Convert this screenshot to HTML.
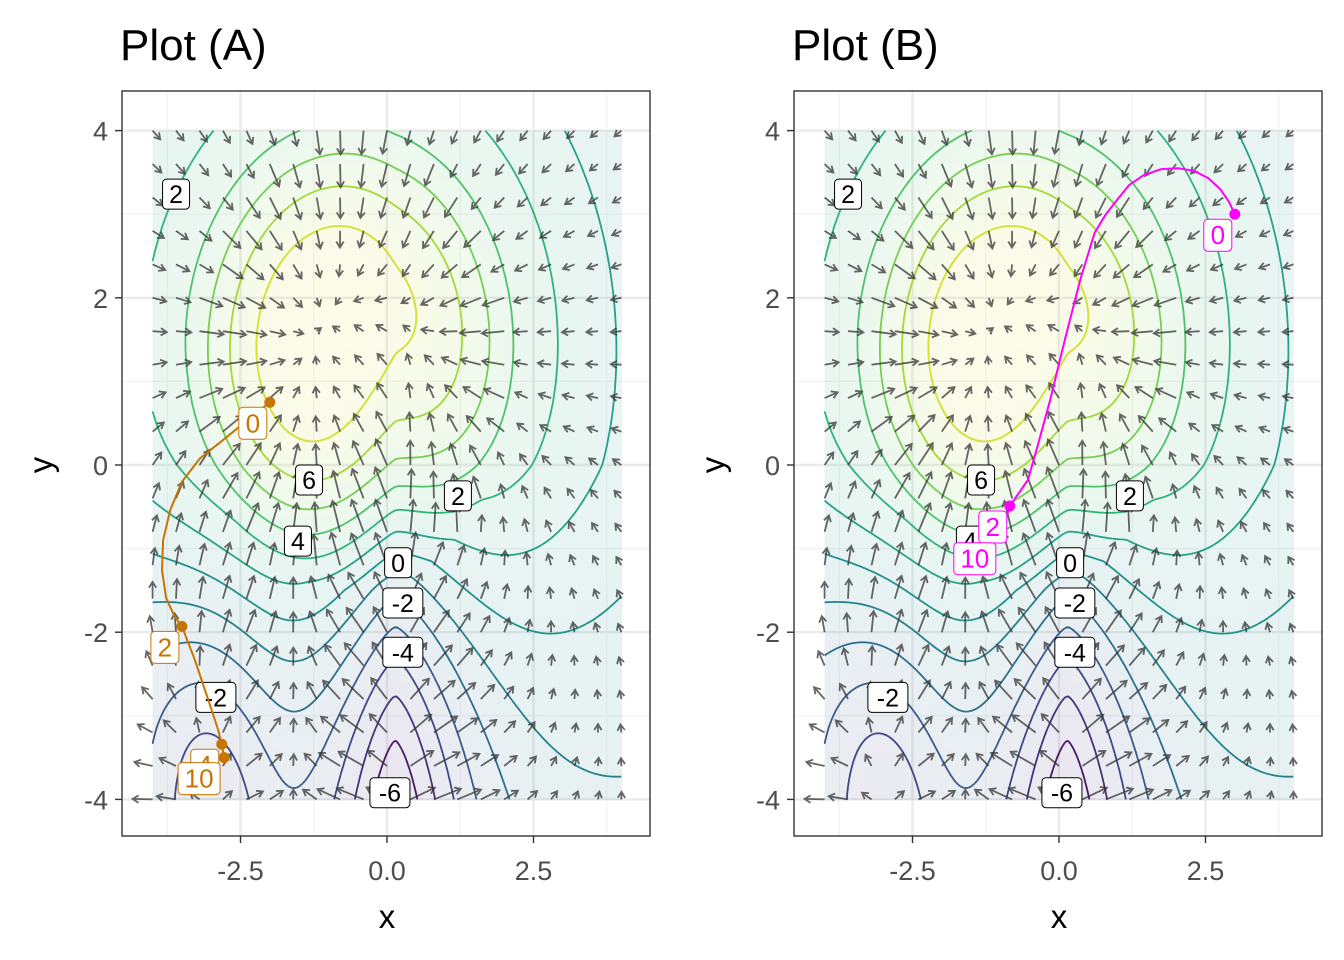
<!DOCTYPE html>
<html><head><meta charset="utf-8"><style>
html,body{margin:0;padding:0;background:#fff;}
svg{display:block;font-family:"Liberation Sans",Arial,sans-serif;}
</style></head><body>
<svg id="chart" width="1344" height="960" viewBox="0 0 1344 960" xmlns="http://www.w3.org/2000/svg">
<text x="120" y="60" font-size="44" fill="#000">Plot (A)</text>
<text x="792" y="60" font-size="44" fill="#000">Plot (B)</text>
<g id="pA"></g>
<g id="pB"></g>
</svg>
<script>
const contourLevels=[-6,-5,-4,-3,-2,-1,0,1,2,3,4,5,6,7,8];
const xTicks=[-2.5,0,2.5];
const xTickLabels=["-2.5","0.0","2.5"];
const yTicks=[-4,-2,0,2,4];
const yTickLabels=["-4","-2","0","2","4"];
const labelText=["2","6","4","2","0","-2","-4","-2","-6"];
const labelX=[-3.6,-1.33,-1.52,1.21,0.19,0.27,0.27,-2.92,0.05];
const labelY=[3.24,-0.18,-0.91,-0.37,-1.17,-1.65,-2.24,-2.78,-3.92];
const trajAX=[-2.0,-2.34,-2.76,-3.19,-3.50,-3.70,-3.82,-3.84,-3.77,-3.62,-3.50,-3.28,-3.05,-2.88,-2.82,-2.78];
const trajAY=[0.75,0.56,0.32,0.08,-0.20,-0.54,-0.90,-1.26,-1.59,-1.82,-1.93,-2.33,-2.81,-3.17,-3.34,-3.50];
const markAT=["4","0","2","10"];
const markAX=[-2.82,-2.0,-3.5,-2.78];
const markAY=[-3.34,0.75,-1.93,-3.5];
const trajBX=[3.0,2.9,2.75,2.55,2.3,2.03,1.75,1.45,1.2,1.0,0.8,0.61,0.36,0.10,-0.15,-0.36,-0.53,-0.84,-0.92,-1.01];
const trajBY=[3.0,3.15,3.3,3.43,3.52,3.55,3.54,3.47,3.35,3.18,3.0,2.78,2.21,1.50,0.78,0.24,-0.18,-0.49,-0.68,-0.87];
const markBT=["0","2","10"];
const markBX=[3.0,-0.84,-1.01];
const markBY=[3.0,-0.49,-0.87];

const NS="http://www.w3.org/2000/svg";
function f(x,y){
  const u=(x+0.6)*(x+0.6)+(y-1.3)*(y-1.3);
  const hh=u<7.84?0.8*Math.pow(u/7.84,1.33):0.8*Math.pow(u/7.84,0.77);
  const a=8.1*Math.exp(-hh);
  const b0=0.5-0.2*Math.max(0,-y);
  const b=6.6*Math.exp(-Math.pow(Math.abs(x-0.14)/1.4,1.4)-(y+4.5)*(y+4.5)/22);
  const c=3.2*Math.exp(-(x+3.0)*(x+3.0)/1.3-(y+4.4)*(y+4.4)/6);
  const d=1.5*Math.exp(-(x+4)*(x+4)/6-(y+2.5)*(y+2.5)/4);
  return b0+a-b-c-d;
}
const vir=["#440154","#472d7b","#3b528b","#2c728e","#21918c","#28ae80","#5ec962","#addc30","#fde725"];
function hx(h){return [parseInt(h.substr(1,2),16),parseInt(h.substr(3,2),16),parseInt(h.substr(5,2),16)];}
function viridis(t){t=Math.max(0,Math.min(1,t));const s=t*8;const i=Math.min(7,Math.floor(s));const r=s-i;
  const a=hx(vir[i]),b=hx(vir[i+1]);return "rgb("+a.map((v,k)=>Math.round(v+(b[k]-v)*r)).join(",")+")";}
function el(tag,attrs,parent){const e=document.createElementNS(NS,tag);for(const k in attrs)e.setAttribute(k,attrs[k]);parent.appendChild(e);return e;}

function drawPlot(g,ox,tx,ty,mt,mx,my,col,pre){
  const X=v=>387+ox+58.6*v, Y=v=>465-83.6*v;
  const L=122+ox,R=650+ox,T=91,B=836;
  const bg=el('rect',{x:L,y:T,width:R-L,height:B-T,fill:'#fff'},g);
  
  
  const grid=el('g',{},g);
  
  
  [-3.75,-1.25,1.25,3.75].forEach(v=>el('line',{x1:X(v),x2:X(v),y1:T,y2:B,stroke:'#f2f2f2','stroke-width':1.2},grid));
  [-3,-1,1,3].forEach(v=>el('line',{x1:L,x2:R,y1:Y(v),y2:Y(v),stroke:'#f2f2f2','stroke-width':1.2},grid));
  xTicks.forEach(v=>el('line',{x1:X(v),x2:X(v),y1:T,y2:B,stroke:'#ebebeb','stroke-width':2.4},grid));
  yTicks.forEach(v=>el('line',{x1:L,x2:R,y1:Y(v),y2:Y(v),stroke:'#ebebeb','stroke-width':2.4},grid));
  const fmin=-6.7,fmax=8.4;
  const ras=el('g',{opacity:0.1},g);
  
  
  const st=0.2;
  for(let i=0;i<40;i++)for(let j=0;j<40;j++){
    const x0=-4+i*st,y0=-4+j*st;const v=f(x0+st/2,y0+st/2);
    el('rect',{x:X(x0),y:Y(y0+st),width:58.6*st+0.6,height:83.6*st+0.6,fill:viridis((v-fmin)/(fmax-fmin))},ras);
  }
  const N=160,h=8/N;const vals=[];
  for(let i=0;i<=N;i++){vals.push([]);for(let j=0;j<=N;j++)vals[i].push(f(-4+i*h,-4+j*h));}
  const cg=el('g',{fill:'none','stroke-width':1.8},g);
  
  
  contourLevels.forEach(lv=>{
    let d="";
    for(let i=0;i<N;i++)for(let j=0;j<N;j++){
      const c=[[i,j],[i+1,j],[i+1,j+1],[i,j+1]];
      const pts=[];
      for(let k=0;k<4;k++){const a=c[k],b=c[(k+1)%4];const va=vals[a[0]][a[1]]-lv,vb=vals[b[0]][b[1]]-lv;
        if((va<0)!==(vb<0)){const t=va/(va-vb);const xx=-4+(a[0]+(b[0]-a[0])*t)*h,yy=-4+(a[1]+(b[1]-a[1])*t)*h;pts.push([X(xx),Y(yy)]);}}
      for(let k=0;k+1<pts.length;k+=2)d+="M"+pts[k][0].toFixed(1)+" "+pts[k][1].toFixed(1)+"L"+pts[k+1][0].toFixed(1)+" "+pts[k+1][1].toFixed(1);
    }
    const p=el('path',{d:d,stroke:viridis((lv+6)/14)},cg);
    
    
  });
  const ag=el('g',{stroke:'#333','stroke-opacity':0.75,'stroke-width':1.8,fill:'none'},g);
  
  
  for(let i=0;i<=20;i++)for(let j=0;j<=20;j++){
    const x=-4+i*0.4,y=-4+j*0.4,e=1e-3;
    const gx=(f(x+e,y)-f(x-e,y))/(2*e),gy=(f(x,y+e)-f(x,y-e))/(2*e);
    const m=Math.hypot(gx,gy);if(m<1e-6)continue;
    let px=gx*58.6,py=-gy*83.6;const pm=Math.hypot(px,py);px/=pm;py/=pm;
    const len=Math.min(34,5+7*m);
    const x1=X(x),y1=Y(y),x2=x1+px*len,y2=y1+py*len;
    const ang=Math.atan2(py,px);const hl=7;
    const h1x=x2-hl*Math.cos(ang-0.55),h1y=y2-hl*Math.sin(ang-0.55),h2x=x2-hl*Math.cos(ang+0.55),h2y=y2-hl*Math.sin(ang+0.55);
    el('path',{d:`M${x1.toFixed(1)} ${y1.toFixed(1)}L${x2.toFixed(1)} ${y2.toFixed(1)}M${h1x.toFixed(1)} ${h1y.toFixed(1)}L${x2.toFixed(1)} ${y2.toFixed(1)}L${h2x.toFixed(1)} ${h2y.toFixed(1)}`},ag);
  }
  labelText.forEach((t,k)=>{
    const w=t.length*13+14,cx=X(labelX[k]),cy=Y(labelY[k]);
    const lg=el('g',{},g);
    
    
    el('rect',{x:cx-w/2,y:cy-15,width:w,height:30,rx:4,fill:'#fff',stroke:'#000','stroke-width':1},lg);
    const tt=el('text',{x:cx,y:cy+9,'text-anchor':'middle','font-size':25,fill:'#000'},lg);tt.textContent=t;
  });
  let d="";tx.forEach((v,k)=>{d+=(k?"L":"M")+X(v).toFixed(1)+" "+Y(ty[k]).toFixed(1);});
  const tp=el('path',{d:d,fill:'none',stroke:col,'stroke-width':2,'stroke-linejoin':'round'},g);
  
  
  mt.forEach((t,k)=>{
    const c=el('circle',{cx:X(mx[k]),cy:Y(my[k]),r:5.5,fill:col},g);
    
    
  });
  mt.forEach((t,k)=>{
    const cx=X(mx[k]),cy=Y(my[k]);
    const w=t.length*14+14,lx=cx-(t.length>1?25:17),ly=cy+21;
    const lg=el('g',{},g);
    
    
    el('rect',{x:lx-w/2,y:ly-16,width:w,height:32,rx:4,fill:'#fff',stroke:col,'stroke-width':1},lg);
    const tt=el('text',{x:lx,y:ly+9,'text-anchor':'middle','font-size':26,fill:col},lg);tt.textContent=t;
  });
  const bd=el('rect',{x:L,y:T,width:R-L,height:B-T,fill:'none',stroke:'#333','stroke-width':1.4},g);
  
  
  xTicks.forEach((v,k)=>{
    el('line',{x1:X(v),x2:X(v),y1:B,y2:B+7,stroke:'#333','stroke-width':1.4},g);
    const t=el('text',{x:X(v),y:B+44,'text-anchor':'middle','font-size':27,fill:'#4d4d4d'},g);t.textContent=xTickLabels[k];
    
    
  });
  yTicks.forEach((v,k)=>{
    el('line',{x1:L-7,x2:L,y1:Y(v),y2:Y(v),stroke:'#333','stroke-width':1.4},g);
    const t=el('text',{x:L-14,y:Y(v)+10,'text-anchor':'end','font-size':27,fill:'#4d4d4d'},g);t.textContent=yTickLabels[k];
    
    
  });
  const xt=el('text',{x:X(0),y:928,'text-anchor':'middle','font-size':33,fill:'#000'},g);xt.textContent="x";
  
  
  const yt=el('text',{x:0,y:0,'text-anchor':'middle','font-size':33,fill:'#000',transform:`translate(${52+ox},465) rotate(-90)`},g);yt.textContent="y";
  
  
}
drawPlot(document.getElementById('pA'),0,trajAX,trajAY,markAT,markAX,markAY,'#c87400','a-');
drawPlot(document.getElementById('pB'),672,trajBX,trajBY,markBT,markBX,markBY,'#ff00ff','b-');
</script>
</body></html>
